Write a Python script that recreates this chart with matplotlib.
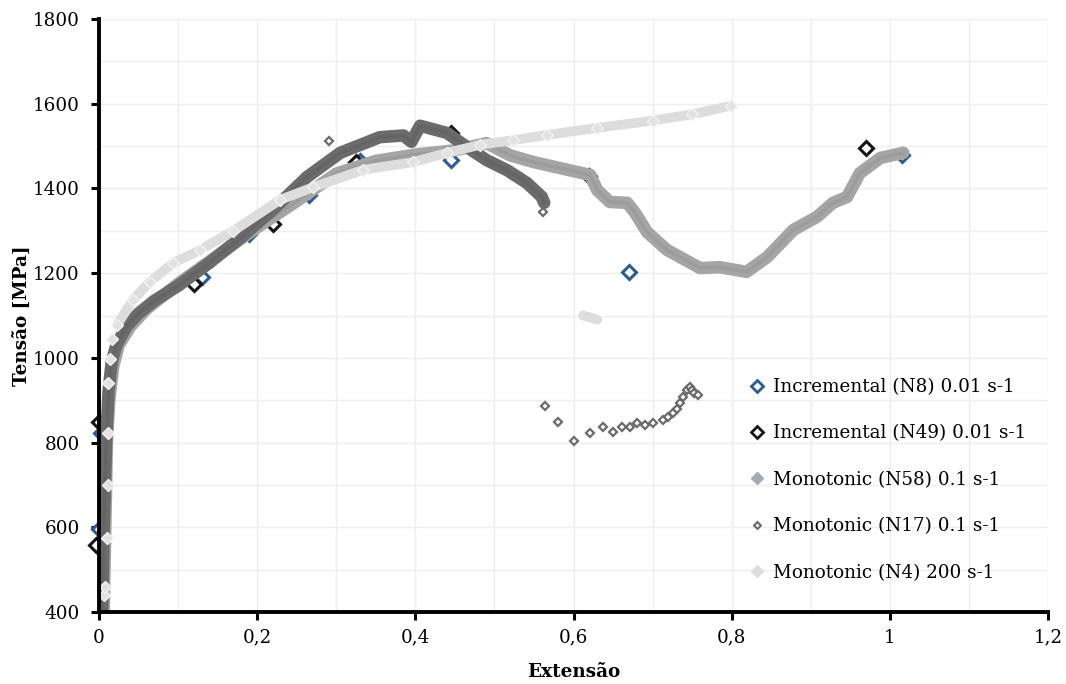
import matplotlib
matplotlib.use("Agg")
import matplotlib.pyplot as plt
from matplotlib.lines import Line2D
from matplotlib.ticker import MultipleLocator, FuncFormatter

# ---------------- data ----------------
# Incremental (N8) 0.01 s-1
n8_x = [0.0, 0.002, 0.13, 0.19, 0.265, 0.33, 0.445, 0.67, 1.015]
n8_y = [595, 822, 1190, 1292, 1385, 1465, 1468, 1203, 1480]

# Incremental (N49) 0.01 s-1
n49_x = [-0.004, 0.0, 0.12, 0.22, 0.325, 0.445, 0.62, 0.97]
n49_y = [558, 848, 1175, 1317, 1462, 1530, 1430, 1495]

# Monotonic (N58) 0.1 s-1
n58_x = [0.006, 0.008, 0.010, 0.013, 0.018, 0.025, 0.04, 0.06, 0.08, 0.10,
         0.13, 0.16, 0.20, 0.25, 0.30, 0.35, 0.40, 0.45, 0.49, 0.52, 0.55,
         0.583, 0.621, 0.630, 0.646, 0.668, 0.678, 0.693, 0.718, 0.760,
         0.785, 0.819, 0.845, 0.878, 0.908, 0.928, 0.946, 0.962, 0.988, 1.017]
n58_y = [400, 600, 800, 900, 980, 1030, 1075, 1115, 1145, 1175,
         1215, 1255, 1308, 1370, 1435, 1465, 1480, 1490, 1507, 1478, 1462,
         1448, 1432, 1396, 1368, 1366, 1342, 1297, 1255, 1212,
         1214, 1203, 1238, 1302, 1333, 1366, 1380, 1436, 1472, 1484]

# Monotonic (N17) 0.1 s-1 : dense part
n17_x = [0.004, 0.006, 0.009, 0.012, 0.016, 0.022, 0.035, 0.05, 0.07, 0.10,
         0.14, 0.18, 0.22, 0.263, 0.305, 0.355, 0.385, 0.395, 0.406, 0.44,
         0.465, 0.49, 0.516, 0.541, 0.56, 0.563]
n17_y = [400, 600, 800, 920, 990, 1030, 1075, 1105, 1135, 1170,
         1225, 1285, 1350, 1427, 1484, 1521, 1525, 1510, 1548, 1531,
         1498, 1467, 1443, 1413, 1380, 1366]
# Monotonic (N17) 0.1 s-1 : scattered points
n17s_x = [0.291, 0.561, 0.564, 0.580, 0.601, 0.621, 0.637, 0.650, 0.661,
          0.671, 0.680, 0.690, 0.701, 0.713, 0.720, 0.726, 0.731, 0.735,
          0.739, 0.743, 0.747, 0.750, 0.753, 0.757]
n17s_y = [1512, 1344, 886, 849, 804, 822, 837, 825, 837,
          837, 846, 841, 846, 853, 860, 870, 880, 893,
          908, 924, 931, 925, 918, 912]

# Monotonic (N4) 200 s-1
n4_x = [0.006, 0.0076, 0.010, 0.011, 0.011, 0.0115, 0.014, 0.017, 0.023,
        0.043, 0.064, 0.094, 0.128, 0.17, 0.229, 0.271, 0.334, 0.397,
        0.44, 0.482, 0.524, 0.566, 0.63, 0.70, 0.75, 0.799]
n4_y = [440, 459, 575, 700, 822, 941, 997, 1045, 1078,
        1137, 1179, 1224, 1255, 1300, 1373, 1403, 1444, 1462,
        1484, 1503, 1514, 1526, 1543, 1560, 1575, 1595]
n4c_x = [0.612, 0.618, 0.624, 0.630]
n4c_y = [1100, 1097, 1094, 1090]

labels = ["Incremental (N8) 0.01 s-1", "Incremental (N49) 0.01 s-1",
          "Monotonic (N58) 0.1 s-1", "Monotonic (N17) 0.1 s-1",
          "Monotonic (N4) 200 s-1"]

x_ticks = [0, 0.2, 0.4, 0.6, 0.8, 1.0, 1.2]
y_ticks = [400, 600, 800, 1000, 1200, 1400, 1600, 1800]

# ---------------- style ----------------
FONT = "DejaVu Serif"
plt.rcParams['font.family'] = [FONT]
FS = 13.2
LFS = 13.2

c_n8 = "#2b5d92"
c_n49 = "#151515"
c_n58 = "#a5a5a5"
c_n58_leg = "#a3abb8"
c_n17 = "#6b6b6b"
c_n4 = "#dddddd"

fig = plt.figure(figsize=(10.66, 6.84), dpi=100)
ax = fig.add_axes([99 / 1066, 1 - 612 / 684, 949 / 1066, 593 / 684])

# N8
ax.plot(n8_x, n8_y, linestyle="none", marker="D", markersize=7.5,
        markerfacecolor="white", markeredgecolor=c_n8, markeredgewidth=2.2,
        zorder=3, clip_on=False)
# N49
ax.plot(n49_x, n49_y, linestyle="none", marker="D", markersize=7.5,
        markerfacecolor="white", markeredgecolor=c_n49, markeredgewidth=2.2,
        zorder=3, clip_on=False)
# N58 (dense band)
ax.plot(n58_x, n58_y, color=c_n58, linewidth=9, solid_capstyle="round",
        solid_joinstyle="round", zorder=4)
ax.plot(n58_x, n58_y, color="#8c8c8c", linewidth=2.5, alpha=0.35, zorder=4)
# N17 (dense band + scattered)
ax.plot(n17_x, n17_y, color=c_n17, linewidth=9, solid_capstyle="round",
        solid_joinstyle="round", zorder=5)
ax.plot(n17_x, n17_y, color="#585858", linewidth=2.5, alpha=0.35, zorder=5)
ax.plot(n17s_x, n17s_y, linestyle="none", marker="D", markersize=4,
        markerfacecolor="white", markeredgecolor=c_n17, markeredgewidth=1.6,
        zorder=5)
# N4
ax.plot(n4_x[8:], n4_y[8:], color=c_n4, linewidth=7, solid_capstyle="round",
        solid_joinstyle="round", zorder=6)
ax.plot(n4_x, n4_y, linestyle="none", marker="D", markersize=6,
        markerfacecolor="#e2e2e2", markeredgecolor="#f2f2f2",
        markeredgewidth=1.0, zorder=6)
ax.plot(n4c_x, n4c_y, color=c_n4, linewidth=7, solid_capstyle="round", zorder=6)

# axes
ax.set_xlim(0, 1.2)
ax.set_ylim(400, 1800)
ax.set_xticks(x_ticks)
ax.set_yticks(y_ticks)
ax.xaxis.set_minor_locator(MultipleLocator(0.1))
ax.yaxis.set_minor_locator(MultipleLocator(100))
ax.xaxis.set_major_formatter(FuncFormatter(
    lambda v, p: "0" if abs(v) < 1e-9 else f"{v:g}".replace(".", ",")))
ax.grid(True, which="both", color="#eeeeee", linewidth=1.0, zorder=0)
ax.set_axisbelow(True)
for s in ["top", "right"]:
    ax.spines[s].set_visible(False)
for s in ["left", "bottom"]:
    ax.spines[s].set_linewidth(2.8)
    ax.spines[s].set_color("black")
    ax.spines[s].set_zorder(7)
ax.tick_params(axis="both", which="major", direction="out", length=6,
               width=2.2, color="black", labelsize=FS, pad=8)
ax.tick_params(axis="both", which="minor", length=0)
ax.tick_params(axis="x", pad=6)

ax.set_xlabel("Extensão", fontsize=FS, fontweight="bold", labelpad=12)
ax.set_ylabel("Tensão [MPa]", fontsize=FS, fontweight="bold")
ax.yaxis.set_label_coords((31 - 99) / 949, 0.5)

handles = [
    Line2D([], [], linestyle="none", marker="D", markersize=6.5,
           markerfacecolor="white", markeredgecolor=c_n8, markeredgewidth=2),
    Line2D([], [], linestyle="none", marker="D", markersize=6.5,
           markerfacecolor="white", markeredgecolor=c_n49, markeredgewidth=2),
    Line2D([], [], linestyle="none", marker="D", markersize=6,
           markerfacecolor=c_n58_leg, markeredgecolor=c_n58_leg),
    Line2D([], [], linestyle="none", marker="D", markersize=3.5,
           markerfacecolor="white", markeredgecolor=c_n17, markeredgewidth=1.5),
    Line2D([], [], linestyle="none", marker="D", markersize=6.5,
           markerfacecolor="#dedede", markeredgecolor="#dedede"),
]
leg = ax.legend(handles, labels, loc="upper left",
                bbox_to_anchor=((748 - 99) / 949, (612 - 378) / 593),
                frameon=False, fontsize=LFS, handlelength=1.0,
                handletextpad=0.35, labelspacing=1.55, borderpad=0,
                borderaxespad=0)
leg.set_zorder(8)

fig.savefig("out.png", dpi=100)
